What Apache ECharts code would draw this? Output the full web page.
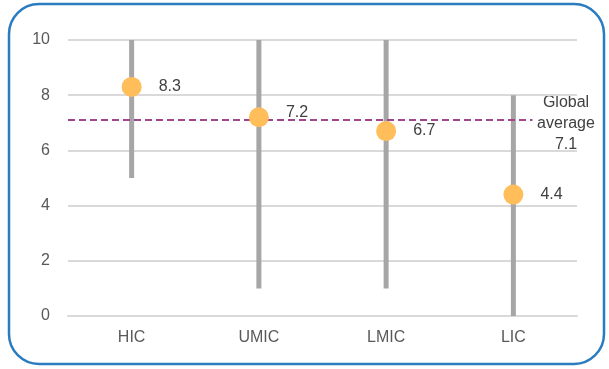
<!DOCTYPE html>
<html>
<head>
<meta charset="utf-8">
<script src="https://cdn.jsdelivr.net/npm/echarts@6/dist/echarts.min.js"></script>
<style>
  html, body { margin: 0; padding: 0; background: #fff; }
  #main { width: 609px; height: 369px; }
</style>
</head>
<body>
<div id="main"></div>
<script>
var categories = ['HIC', 'UMIC', 'LMIC', 'LIC'];
var rangeLow = [5, 1, 1, 0];
var rangeHigh = [10, 10, 10, 8];
var scores = [8.3, 7.2, 6.7, 4.4];
var globalAvg = 7.1;
var avgLineEnd = 3.65; // where the dashed line stops, in category units

var chart = echarts.init(document.getElementById('main'));

var rangeSpan = rangeHigh.map(function (h, i) { return h - rangeLow[i]; });

// the UMIC label sits a little higher so it clears the dashed line
var scoreData = scores.map(function (v, i) {
    return i === 1 ? { value: v, label: { offset: [0, -5] } } : v;
});

var option = {
    animation: false,
    textStyle: { fontFamily: 'Liberation Sans, Arial, sans-serif' },
    grid: { left: 68, right: 32, top: 40, bottom: 53 },
    xAxis: [
        {
            type: 'category',
            data: categories,
            axisLine: { lineStyle: { color: '#D9D9D9', width: 2 } },
            axisTick: { show: false },
            axisLabel: { color: '#595959', fontSize: 16, margin: 14 }
        },
        {
            type: 'value', min: 0, max: 4, show: false
        }
    ],
    yAxis: {
        type: 'value',
        min: 0, max: 10, interval: 2,
        axisLine: { show: false },
        axisTick: { show: false },
        axisLabel: { color: '#595959', fontSize: 16, margin: 18 },
        splitLine: { lineStyle: { color: '#D9D9D9', width: 2 } }
    },
    series: [
        {
            type: 'bar', stack: 'range', data: rangeLow,
            barWidth: 5, itemStyle: { color: 'transparent' }, silent: true
        },
        {
            type: 'bar', stack: 'range', data: rangeSpan,
            barWidth: 5, itemStyle: { color: '#A6A6A6' }
        },
        {
            type: 'line', xAxisIndex: 1,
            data: [[0, globalAvg], [avgLineEnd, globalAvg]],
            symbol: 'none',
            lineStyle: { color: '#A1458C', width: 2, type: [7, 4] },
            z: 3
        },
        {
            type: 'scatter', data: scoreData, symbolSize: 20,
            itemStyle: { color: '#FFBE5A', opacity: 1 },
            label: {
                show: true, position: 'right', distance: 17,
                color: '#404040', fontSize: 16
            },
            z: 4
        }
    ],
    graphic: [
        {
            type: 'rect',
            shape: { x: 9, y: 4, width: 595, height: 360, r: 30 },
            style: { fill: 'none', stroke: '#2A7BC0', lineWidth: 2.5 },
            z: 100
        },
        {
            type: 'text',
            left: 535, top: 92,
            style: {
                text: 'Global\naverage\n' + globalAvg,
                fill: '#404040', font: '16px Liberation Sans, Arial, sans-serif',
                textAlign: 'center', lineHeight: 21, width: 62
            }
        }
    ]
};

chart.setOption(option);
window.onresize = function () { chart.resize(); };
</script>
</body>
</html>
